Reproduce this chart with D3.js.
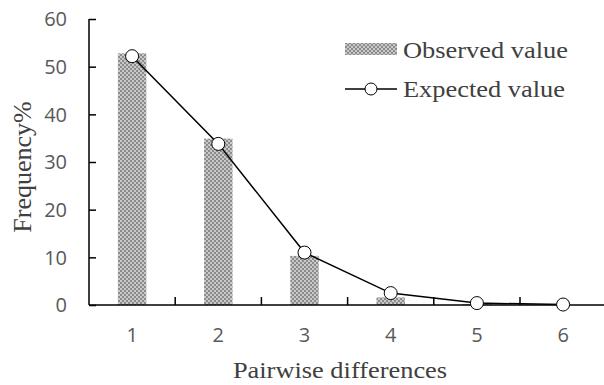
<!DOCTYPE html>
<html>
<head>
<meta charset="utf-8">
<script src="https://cdn.jsdelivr.net/npm/d3@7"></script>
<style>
  html, body { margin: 0; padding: 0; background: #fff; }
  svg { display: block; }
</style>
</head>
<body>
<div id="app"></div>
<script>
// Pairwise differences (x categories) and the two series.
const categories = [1, 2, 3, 4, 5, 6];
const observed = [52.8, 34.9, 10.3, 1.6, 0.2, 0];
const expected = [52.2, 33.8, 11.0, 2.5, 0.4, 0.1];
const yTicks = [0, 10, 20, 30, 40, 50, 60];
const seriesNames = ['Observed value', 'Expected value'];

const svgWidth = 604;
const svgHeight = 385;
const margin = { top: 19, right: 0, bottom: 80, left: 89 };
const plotBottom = svgHeight - margin.bottom; // 305

// The serif text in the source figure is a bit wider than Times at its height.
const stretch = 1.1;
const serif = '"Liberation Serif", "Times New Roman", serif';
const sans = '"Open Sans", sans-serif';

const svg = d3.select('#app')
  .append('svg')
  .attr('width', svgWidth)
  .attr('height', svgHeight);

// Cross-hatch fill used by the observed bars.
const defs = svg.append('defs');
const pattern = defs.append('pattern')
  .attr('id', 'hatch')
  .attr('patternUnits', 'userSpaceOnUse')
  .attr('width', 4)
  .attr('height', 4);
pattern.append('rect').attr('width', 4).attr('height', 4).attr('fill', '#8c8c8c');
pattern.append('circle').attr('cx', 1).attr('cy', 1).attr('r', 0.9).attr('fill', '#e6e6e6');
pattern.append('circle').attr('cx', 3).attr('cy', 3).attr('r', 0.9).attr('fill', '#e6e6e6');

const x = d3.scaleBand()
  .domain(categories)
  .range([margin.left, margin.left + 86.2 * categories.length])
  .padding(0);

const y = d3.scaleLinear()
  .domain([0, 60])
  .range([plotBottom, margin.top]);

const barWidth = x.bandwidth() * 0.33;
const cx = (d) => x(d) + x.bandwidth() / 2;

// Bars
svg.append('g')
  .selectAll('rect')
  .data(categories.map((c, i) => ({ c, v: observed[i] })))
  .join('rect')
  .attr('x', (d) => cx(d.c) - barWidth / 2)
  .attr('width', barWidth)
  .attr('y', (d) => y(d.v))
  .attr('height', (d) => plotBottom - y(d.v))
  .attr('fill', 'url(#hatch)');

// Y axis (ticks inward)
const yAxis = svg.append('g')
  .attr('transform', `translate(${margin.left},0)`)
  .call(d3.axisRight(y).tickValues(yTicks).tickSize(7).tickFormat(''));
yAxis.select('.domain').attr('d', `M0,${y(60)}V${y(0)}`);
yAxis.selectAll('line, path').attr('stroke', '#000').attr('stroke-width', 1.5);

svg.append('g')
  .selectAll('text')
  .data(yTicks)
  .join('text')
  .attr('x', margin.left - 22)
  .attr('y', (d) => y(d))
  .attr('dy', '0.36em')
  .attr('text-anchor', 'end')
  .attr('font-family', sans)
  .attr('font-size', 20)
  .attr('fill', '#595959')
  .text((d) => d);

// X axis with ticks between categories, pointing up
const xAxisG = svg.append('g');
xAxisG.append('line')
  .attr('x1', margin.left)
  .attr('x2', svgWidth)
  .attr('y1', plotBottom)
  .attr('y2', plotBottom)
  .attr('stroke', '#000')
  .attr('stroke-width', 1.5);
xAxisG.selectAll('line.tick')
  .data(categories.slice(1))
  .join('line')
  .attr('class', 'tick')
  .attr('x1', (d) => x(d))
  .attr('x2', (d) => x(d))
  .attr('y1', plotBottom)
  .attr('y2', plotBottom - 8)
  .attr('stroke', '#000')
  .attr('stroke-width', 1.5);
xAxisG.selectAll('text')
  .data(categories)
  .join('text')
  .attr('x', cx)
  .attr('y', plotBottom + 37)
  .attr('text-anchor', 'middle')
  .attr('font-family', sans)
  .attr('font-size', 20)
  .attr('fill', '#595959')
  .text((d) => d);

// Expected line + markers
const line = d3.line()
  .x((d) => cx(d.c))
  .y((d) => y(d.v));
const expData = categories.map((c, i) => ({ c, v: expected[i] }));
svg.append('path')
  .datum(expData)
  .attr('d', line)
  .attr('fill', 'none')
  .attr('stroke', '#000')
  .attr('stroke-width', 1.5);
svg.append('g')
  .selectAll('circle')
  .data(expData)
  .join('circle')
  .attr('cx', (d) => cx(d.c))
  .attr('cy', (d) => y(d.v))
  .attr('r', 6.5)
  .attr('fill', '#fff')
  .attr('stroke', '#000')
  .attr('stroke-width', 1);

// Axis titles
svg.append('text')
  .attr('transform', `translate(340,378) scale(${stretch},1)`)
  .attr('text-anchor', 'middle')
  .attr('font-family', serif)
  .attr('font-size', 24)
  .attr('fill', '#404040')
  .text('Pairwise differences');
svg.append('text')
  .attr('transform', 'translate(31,167) rotate(-90)')
  .attr('text-anchor', 'middle')
  .attr('font-family', serif)
  .attr('font-size', 26)
  .attr('fill', '#404040')
  .text('Frequency%');

// Legend
const legend = svg.append('g').attr('transform', 'translate(345,0)');
legend.append('rect')
  .attr('x', 0).attr('y', 43).attr('width', 52).attr('height', 12)
  .attr('fill', 'url(#hatch)');
legend.append('line')
  .attr('x1', 0).attr('x2', 52).attr('y1', 89).attr('y2', 89)
  .attr('stroke', '#000').attr('stroke-width', 1.5);
legend.append('circle')
  .attr('cx', 26).attr('cy', 89).attr('r', 6)
  .attr('fill', '#fff').attr('stroke', '#000');
legend.selectAll('text')
  .data(seriesNames)
  .join('text')
  .attr('transform', (d, i) => `translate(58,${58 + i * 39}) scale(${stretch},1)`)
  .attr('font-family', serif)
  .attr('font-size', 24)
  .attr('fill', '#404040')
  .text((d) => d);
</script>
</body>
</html>
